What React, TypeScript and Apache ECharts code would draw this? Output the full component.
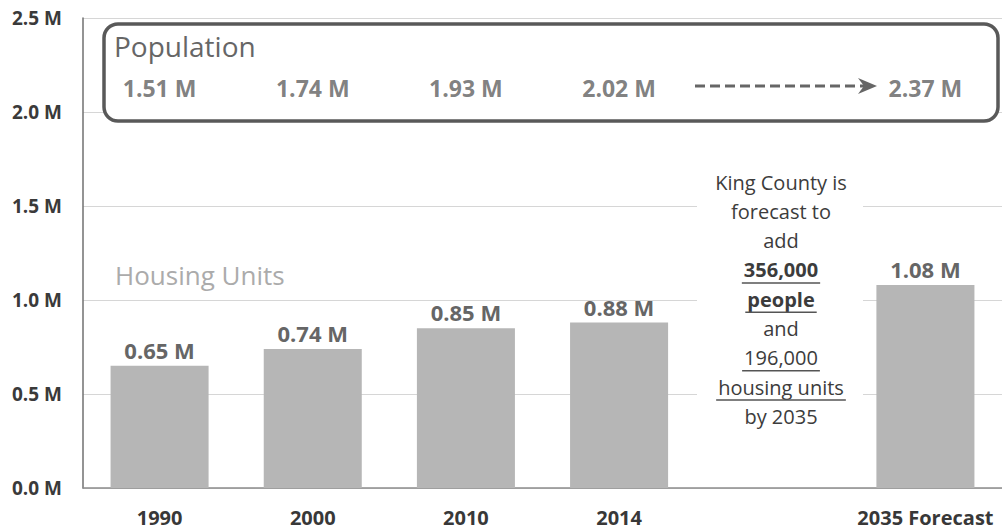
import React, { useEffect, useRef } from "react";
import * as echarts from "echarts";

// ---- data ----
const categories = ["1990", "2000", "2010", "2014", "", "2035 Forecast"];
const housingUnits: (number | null)[] = [0.65, 0.74, 0.85, 0.88, null, 1.08];
const population: (number | null)[] = [1.51, 1.74, 1.93, 2.02, null, 2.37];
const yTicks = [0, 0.5, 1.0, 1.5, 2.0, 2.5];
const annotationLines = [
  { text: "King County is", style: "n" },
  { text: "forecast to", style: "n" },
  { text: "add", style: "n" },
  { text: "356,000", style: "b" },
  { text: "people", style: "b" },
  { text: "and", style: "n" },
  { text: "196,000", style: "u" },
  { text: "housing units", style: "u" },
  { text: "by 2035", style: "n" },
];

const FONT = "'Open Sans', 'Noto Sans', sans-serif";
const POP_ROW_Y = 2.13; // vertical level (in axis units) of the population row

function measure(text: string, font: string): number {
  const c = document.createElement("canvas").getContext("2d");
  if (!c) return text.length * 10;
  c.font = font;
  return c.measureText(text).width;
}

export default function App() {
  const ref = useRef<HTMLDivElement>(null);

  useEffect(() => {
    if (!ref.current) return;
    const chart = echarts.init(ref.current, null, { renderer: "svg" });

    const annX = 781;
    const annY0 = 182;
    const annStep = 29.3;
    const annGraphics: any[] = [
      {
        type: "rect",
        shape: { x: 697, y: 166, width: 166, height: 266 },
        style: { fill: "#ffffff" },
        z: 3,
      },
    ];
    annotationLines.forEach((l, i) => {
      const y = annY0 + i * annStep;
      const font = `${l.style === "b" ? "bold " : ""}20px ${FONT}`;
      annGraphics.push({
        type: "text",
        x: annX,
        y,
        style: {
          text: l.text,
          fill: "#3c3c3c",
          font,
          textAlign: "center",
          textVerticalAlign: "middle",
        },
        z: 10,
      });
      if (l.style !== "n") {
        const w = measure(l.text, font) + 4;
        annGraphics.push({
          type: "line",
          shape: { x1: annX - w / 2, y1: y + 13, x2: annX + w / 2, y2: y + 13 },
          style: { stroke: "#555", lineWidth: 1.5 },
          z: 10,
        });
      }
    });

    chart.setOption({
      animation: false,
      backgroundColor: "#ffffff",
      grid: { left: 83, right: -8, top: 18, bottom: 41, containLabel: false },
      xAxis: {
        type: "category",
        data: categories,
        axisLine: { show: true, lineStyle: { color: "#8c8c8c", width: 1.5 } },
        axisTick: { show: false },
        axisLabel: {
          interval: 0,
          margin: 19,
          color: "#383838",
          fontFamily: FONT,
          fontWeight: "bold",
          fontSize: 20,
        },
      },
      yAxis: {
        type: "value",
        min: yTicks[0],
        max: yTicks[yTicks.length - 1],
        interval: 0.5,
        axisLine: { show: true, lineStyle: { color: "#707070", width: 1.5 } },
        axisTick: { show: false },
        splitLine: { show: true, lineStyle: { color: "#d6d6d6", width: 1 } },
        axisLabel: {
          margin: 21,
          color: "#3a3a3a",
          fontFamily: FONT,
          fontWeight: "bold",
          fontSize: 19,
          formatter: (v: number) => `${v.toFixed(1)} M`,
        },
      },
      series: [
        {
          type: "bar",
          name: "Housing Units",
          data: housingUnits,
          barWidth: "64%",
          itemStyle: { color: "#b6b6b6" },
          label: {
            show: true,
            position: "top",
            distance: 5,
            color: "#666666",
            fontFamily: FONT,
            fontWeight: "bold",
            fontSize: 22,
            formatter: (p: any) => `${Number(p.value).toFixed(2)} M`,
          },
        },
        {
          type: "scatter",
          name: "Population",
          symbolSize: 1,
          itemStyle: { color: "rgba(0,0,0,0)" },
          data: population.map((p, i) =>
            p == null ? null : { value: [i, POP_ROW_Y], pop: p }
          ),
          label: {
            show: true,
            position: "inside",
            color: "#606060",
            fontFamily: FONT,
            fontWeight: "bold",
            fontSize: 23,
            formatter: (p: any) => `${p.data.pop.toFixed(2)} M`,
          },
          z: 8,
        },
      ],
      graphic: [
        {
          type: "rect",
          shape: { x: 104, y: 24, width: 894, height: 97, r: 14 },
          style: { fill: "#ffffff", stroke: "#595959", lineWidth: 3.5 },
          z: 3,
        },
        {
          type: "text",
          x: 114,
          y: 46,
          style: {
            text: "Population",
            fill: "#666666",
            font: `28px ${FONT}`,
            textVerticalAlign: "middle",
          },
          z: 10,
        },
        {
          type: "line",
          shape: { x1: 695, y1: 86, x2: 864, y2: 86 },
          style: { stroke: "#666", lineWidth: 3, lineDash: [10, 5] },
          z: 10,
        },
        {
          type: "polygon",
          shape: {
            points: [
              [858, 78],
              [877, 86],
              [858, 94],
              [864, 86],
            ],
          },
          style: { fill: "#666" },
          z: 10,
        },
        {
          type: "text",
          x: 115,
          y: 275,
          style: {
            text: "Housing Units",
            fill: "#ababab",
            font: `26px ${FONT}`,
            textVerticalAlign: "middle",
          },
          z: 10,
        },
        ...annGraphics,
      ],
    });

    return () => chart.dispose();
  }, []);

  return (
    <div
      ref={ref}
      style={{ position: "absolute", left: 0, top: 0, width: 1002, height: 529 }}
    />
  );
}
